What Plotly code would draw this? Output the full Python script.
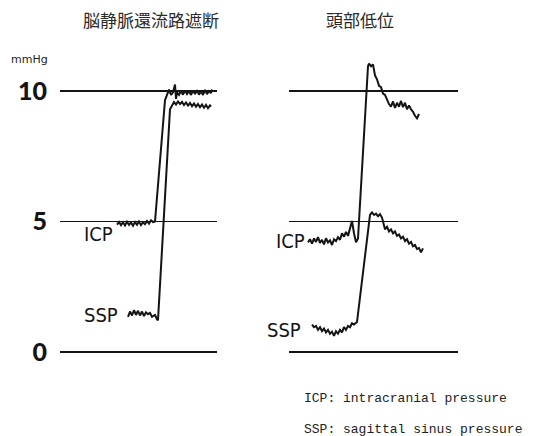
import plotly.graph_objects as go

# ---------------- data ----------------
panel_titles = ["脳静脈還流路遮断", "頭部低位"]
y_ticks = [0, 5, 10]
y_tick_labels = ["0", "5", "10"]
y_unit = "mmHg"
legend_lines = ["ICP: intracranial pressure", "SSP: sagittal sinus pressure"]

# left panel: venous outflow occlusion (time in arbitrary units)
occl_icp_t = [57, 59, 61, 63, 65, 67, 69, 71, 73, 75, 77, 79, 81, 83, 85, 87, 89, 91, 93, 95,
              105, 107, 109, 111, 113, 115, 116, 117, 119, 121, 123, 125, 127, 129, 131, 133,
              135, 137, 139, 141, 143, 145, 147, 149, 151, 152]
occl_icp_v = [4.88, 4.98, 4.86, 4.97, 4.85, 4.99, 4.87, 4.96, 4.84, 4.98, 4.88, 5.00, 4.86, 4.97,
              4.90, 5.02, 4.92, 5.05, 4.98, 5.00,
              9.65, 9.85, 10.05, 9.85, 9.95, 10.25, 9.70, 9.95, 9.85, 10.00, 9.86, 10.02, 9.88,
              10.00, 9.85, 10.02, 9.88, 10.03, 9.86, 10.00, 9.85, 10.04, 9.88, 10.00, 9.92, 10.06]
occl_ssp_t = [68, 70, 72, 74, 76, 78, 80, 82, 84, 86, 88, 90, 92, 95, 97, 98,
              110, 112, 114, 116, 118, 120, 122, 124, 126, 128, 130, 132, 134, 136, 138, 140,
              142, 144, 146, 148, 150, 151]
occl_ssp_v = [1.35, 1.55, 1.40, 1.60, 1.42, 1.58, 1.40, 1.55, 1.38, 1.52, 1.45, 1.50, 1.35, 1.42,
              1.25, 1.22,
              9.30, 9.45, 9.58, 9.48, 9.60, 9.50, 9.58, 9.46, 9.56, 9.44, 9.54, 9.42, 9.52, 9.40,
              9.50, 9.38, 9.48, 9.36, 9.47, 9.34, 9.45, 9.40]

# right panel: head-down position
tilt_icp_t = [19, 21, 23, 25, 27, 29, 31, 33, 35, 37, 39, 41, 43, 45, 47, 49, 51, 53, 55, 57,
              59, 61, 63, 65, 67, 69, 79, 80, 82, 84, 86, 88, 90, 92, 94, 96, 98, 100, 102,
              104, 106, 108, 110, 112, 114, 116, 118, 120, 122, 124, 126, 128, 130]
tilt_icp_v = [4.20, 4.32, 4.15, 4.35, 4.22, 4.40, 4.18, 4.30, 4.12, 4.36, 4.20, 4.28, 4.10,
              4.32, 4.25, 4.40, 4.30, 4.55, 4.42, 4.60, 4.45, 4.70, 5.02, 4.55, 4.20, 4.35,
              10.95, 11.05, 10.95, 11.02, 10.60, 10.45, 10.20, 10.15, 9.90, 9.85, 9.65, 9.50,
              9.40, 9.60, 9.35, 9.55, 9.40, 9.62, 9.38, 9.55, 9.30, 9.45, 9.30, 9.20, 9.05,
              8.95, 9.12]
tilt_ssp_t = [23, 25, 27, 29, 31, 33, 35, 37, 39, 41, 43, 45, 47, 49, 51, 53, 55, 57, 59, 61,
              63, 65, 68, 81, 83, 85, 87, 89, 91, 93, 96, 98, 100, 102, 104, 106, 108, 110, 112,
              114, 116, 118, 120, 122, 124, 126, 128, 130, 132, 134]
tilt_ssp_v = [1.05, 0.95, 1.00, 0.85, 0.95, 0.80, 0.90, 0.75, 0.85, 0.70, 0.78, 0.62, 0.80,
              0.70, 0.85, 0.75, 0.95, 0.85, 1.00, 0.95, 1.10, 1.05, 1.15,
              5.25, 5.35, 5.25, 5.30, 5.20, 5.28, 5.15, 4.70, 4.80, 4.62, 4.70, 4.55, 4.62,
              4.45, 4.50, 4.35, 4.42, 4.25, 4.32, 4.15, 4.22, 4.05, 4.10, 3.95, 3.98, 3.82, 3.97]

# ---------------- figure ----------------
W, H = 540, 436
INK = "#141414"
fig = go.Figure()

line_style = dict(color=INK, width=2)
fig.add_trace(go.Scatter(x=occl_icp_t, y=occl_icp_v, mode="lines", line=line_style,
                         xaxis="x", yaxis="y", name="ICP", showlegend=False))
fig.add_trace(go.Scatter(x=occl_ssp_t, y=occl_ssp_v, mode="lines", line=line_style,
                         xaxis="x", yaxis="y", name="SSP", showlegend=False))
fig.add_trace(go.Scatter(x=tilt_icp_t, y=tilt_icp_v, mode="lines", line=line_style,
                         xaxis="x2", yaxis="y2", name="ICP", showlegend=False))
fig.add_trace(go.Scatter(x=tilt_ssp_t, y=tilt_ssp_v, mode="lines", line=line_style,
                         xaxis="x2", yaxis="y2", name="SSP", showlegend=False))

y_range = [-3.218, 13.487]
common_x = dict(showgrid=False, zeroline=False, showticklabels=False, ticks="",
                showline=False, fixedrange=True)
fig.update_layout(
    width=W, height=H,
    margin=dict(l=0, r=0, t=0, b=0),
    paper_bgcolor="white", plot_bgcolor="rgba(0,0,0,0)",
    xaxis=dict(domain=[60 / W, 217 / W], range=[0, 157], **common_x),
    xaxis2=dict(domain=[289 / W, 458 / W], range=[0, 169], **common_x),
    yaxis=dict(domain=[0, 1], range=y_range, tickvals=y_ticks, ticktext=y_tick_labels,
               showgrid=True, gridcolor=INK, gridwidth=1.3, zeroline=False, ticks="",
               showline=False, ticklabelstandoff=12, automargin=False, fixedrange=True,
               tickfont=dict(family="Lato, DejaVu Sans", size=25, color=INK, weight=900),
               anchor="x"),
    yaxis2=dict(domain=[0, 1], range=y_range, tickvals=y_ticks, showticklabels=False,
                showgrid=True, gridcolor=INK, gridwidth=1.3, zeroline=False, ticks="",
                showline=False, anchor="x2", fixedrange=True),
    showlegend=False,
)

label_font = dict(family="Liberation Sans Narrow, DejaVu Sans Condensed, Roboto, sans-serif",
                  size=20, color=INK)
anns = [
    dict(x=occl_icp_t[0], y=4.52, xref="x", yref="y", text="ICP", xanchor="right", xshift=-2),
    dict(x=occl_ssp_t[0], y=1.42, xref="x", yref="y", text="SSP", xanchor="right", xshift=-8),
    dict(x=tilt_icp_t[0], y=4.25, xref="x2", yref="y2", text="ICP", xanchor="right", xshift=-1),
    dict(x=tilt_ssp_t[0], y=0.84, xref="x2", yref="y2", text="SSP", xanchor="right", xshift=-9),
]
for a in anns:
    fig.add_annotation(showarrow=False, yanchor="middle", font=label_font, **a)

title_font = dict(family="Noto Sans CJK JP", size=17, color="#2a2a2a")
fig.add_annotation(x=151 / W, y=1 - 19.5 / H, xref="paper", yref="paper", text=panel_titles[0],
                   showarrow=False, xanchor="center", yanchor="middle", font=title_font)
fig.add_annotation(x=360 / W, y=1 - 19.5 / H, xref="paper", yref="paper", text=panel_titles[1],
                   showarrow=False, xanchor="center", yanchor="middle", font=title_font)
fig.add_annotation(x=9 / W, y=1 - 59 / H, xref="paper", yref="paper", text=y_unit,
                   showarrow=False, xanchor="left", yanchor="middle",
                   font=dict(family="DejaVu Sans", size=11, color="#222"))

mono = dict(family="Liberation Mono, DejaVu Sans Mono, monospace", size=13, color="#222")
fig.add_annotation(x=302 / W, y=1 - 398 / H, xref="paper", yref="paper", text=legend_lines[0],
                   showarrow=False, xanchor="left", yanchor="middle", font=mono)
fig.add_annotation(x=302 / W, y=1 - 429 / H, xref="paper", yref="paper", text=legend_lines[1],
                   showarrow=False, xanchor="left", yanchor="middle", font=mono)

fig.write_html("out.html", config={"displayModeBar": False, "staticPlot": True},
               post_script="document.body.style.margin='0';document.body.style.overflow='hidden';")
